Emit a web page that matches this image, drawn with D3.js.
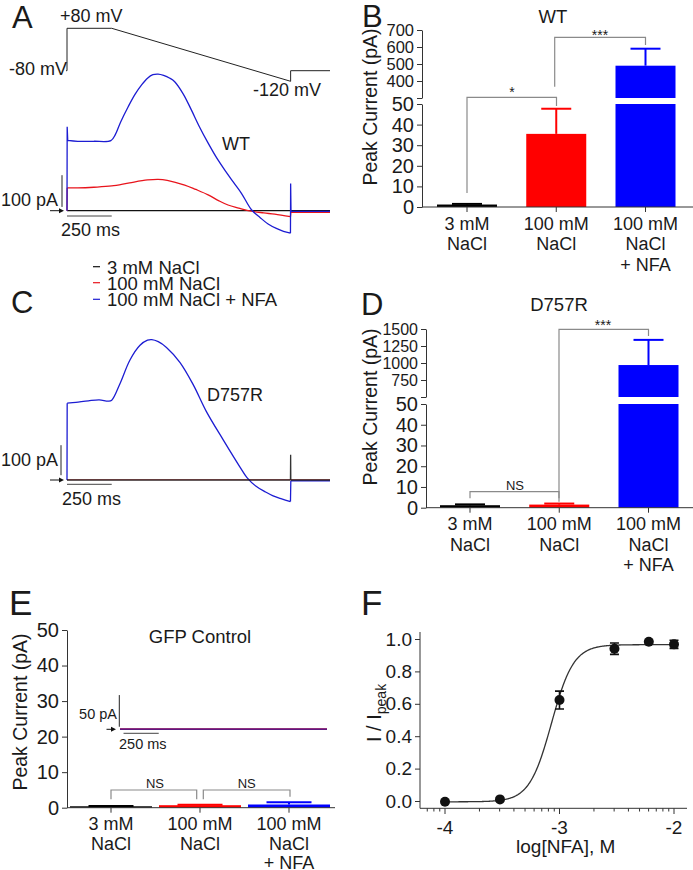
<!DOCTYPE html>
<html><head><meta charset="utf-8">
<script src="https://cdn.jsdelivr.net/npm/d3@7"></script>
<style>
body{margin:0;background:#fff}
svg{display:block}
text{font-family:"Liberation Sans",Arial,Helvetica,sans-serif;fill:#1a1a1a}
</style>
</head><body>
<svg id="fig" width="693" height="870"></svg>
<script>
// ---------------- DATA ----------------
const categories = ["3 mM NaCl", "100 mM NaCl", "100 mM NaCl + NFA"];
const categoryLines = [["3 mM", "NaCl"], ["100 mM", "NaCl"], ["100 mM", "NaCl", "+ NFA"]];
const barColors = ["#000000", "#ff0000", "#0000ff"];
const traceColors = ["#111111", "#e8141c", "#1c1cd2"];

const wtMeans = [1.2, 35.5, 490];
const wtErrors = [0.3, 12.2, 100];
const d757rMeans = [1.2, 1.5, 970];
const d757rErrors = [0.4, 0.5, 370];
const gfpMeans = [0.4, 0.7, 0.9];
const gfpErrors = [0.1, 0.1, 0.6];

const lowerTicks = [0, 10, 20, 30, 40, 50];
const wtUpperTicks = [300, 400, 500, 600, 700];
const d757rUpperTicks = [500, 750, 1000, 1250, 1500];
const gfpTicks = [0, 10, 20, 30, 40, 50];

// voltage protocol (ms, mV)
const protocolTime = [-5, 0, 0, 250, 1250, 1250, 1470];
const protocolVoltage = [-80, -80, 80, 80, -120, -80, -80];

// WT traces (ms, pA)
const wtNfaTime = [0, 1, 4, 60, 150, 245, 270, 300, 342, 380, 416, 450, 480, 509, 540, 575, 602, 650, 695, 740, 789, 835, 882, 930, 975, 1031, 1080, 1124, 1170, 1210, 1249, 1250, 1252, 1470];
const wtNfaCurrent = [0, 265, 222, 219, 219, 221, 240, 280, 328, 367, 396, 418, 429, 431, 427, 418, 407, 368, 318, 265, 213, 168, 128, 90, 55, 3, -22, -42, -56, -65, -71, 86, -2, -2];
const wtNaclTime = [0, 1, 60, 150, 250, 350, 450, 509, 560, 658, 720, 789, 850, 900, 960, 1012, 1100, 1161, 1249, 1251, 1470];
const wtNaclCurrent = [0, 72, 72, 74, 78, 88, 97, 99, 96, 81, 67, 50, 31, 18, 8, 0, -7, -11, -19, -5, -5];
const wtLowTime = [0, 1470];
const wtLowCurrent = [0, 0];

// D757R traces (ms, pA)
const mutNfaTime = [0, 1, 50, 120, 180, 231, 250, 296, 352, 408, 450, 474, 510, 556, 631, 706, 780, 874, 966, 1006, 1059, 1110, 1152, 1200, 1249, 1251, 1470];
const mutNfaCurrent = [0, 256, 259, 264, 267, 263, 266, 321, 400, 449, 466, 468, 461, 442, 392, 317, 227, 133, 44, 8, -22, -40, -53, -63, -72, -3, -3];
const mutNaclTime = [0, 1470];
const mutNaclCurrent = [1, 1];
const mutLowTime = [0, 1249, 1250, 1251, 1470];
const mutLowCurrent = [0, 0, 84, 0, 0];

// GFP control inset traces (ms, pA)
const gfpTraceTime = [0, 1470];
const gfpLowCurrent = [0, 0];
const gfpNaclCurrent = [0.5, 0.5];
const gfpNfaCurrent = [0.3, 0.3];

// Dose response (log M, I/Ipeak)
const logNFA = [-4, -3.52, -3, -2.52, -2.22, -2];
const normCurrent = [-0.005, 0.01, 0.623, 0.94, 0.983, 0.967];
const normError = [0, 0, 0.055, 0.035, 0, 0.025];
const doseTicksX = [-4, -3, -2];
const doseTicksY = [0, 0.2, 0.4, 0.6, 0.8, 1.0];
const fitBottom = -0.005, fitTop = 0.965, fitLogEC50 = -3.07, fitHill = 4.5;

// ---------------- DRAWING ----------------
const svg = d3.select("#fig");
const AX = "#333";
const BR = "#8a8a8a";

function txt(x, y, s, size, anchor, g) {
  return (g || svg).append("text").attr("x", x).attr("y", y).attr("font-size", size)
    .attr("text-anchor", anchor || "start").text(s);
}
function zip(t, v) { return t.map((d, i) => [d, v[i]]); }
function arrow(x1, x2, y) {
  svg.append("line").attr("x1", x1).attr("x2", x2 - 3).attr("y1", y).attr("y2", y).attr("stroke", "#111").attr("stroke-width", 1);
  svg.append("path").attr("d", `M${x2},${y} L${x2 - 5},${y - 2.5} L${x2 - 5},${y + 2.5} Z`).attr("fill", "#111");
}

// panel letters
txt(12, 27.5, "A", 31);
txt(362, 26.5, "B", 31);
txt(11, 313, "C", 31);
txt(361, 315, "D", 31);
txt(9, 615, "E", 35);
txt(361, 615, "F", 35);

// ---------- Panel A : protocol + WT traces ----------
const xA = d3.scaleLinear().domain([0, 1470]).range([67, 330]);
const vA = d3.scaleLinear().domain([-80, 80]).range([70.7, 28.3]);
const yA = d3.scaleLinear().domain([0, 100]).range([210.7, 179]);

svg.append("path").datum(zip(protocolTime, protocolVoltage))
  .attr("d", d3.line().x(d => xA(d[0])).y(d => vA(d[1])))
  .attr("fill", "none").attr("stroke", "#222").attr("stroke-width", 1);
txt(60, 22, "+80 mV", 18);
txt(67, 75, "-80 mV", 18, "end");
txt(253, 96, "-120 mV", 18);

// trace path: smooth between samples, straight for instantaneous jumps
function tracePath(pts, x, y) {
  const segs = [];
  let cur = [pts[0]];
  for (let i = 1; i < pts.length; i++) {
    if (pts[i][0] - pts[i - 1][0] <= 3) {
      if (cur.length > 1) segs.push({ p: cur, smooth: true });
      segs.push({ p: [pts[i - 1], pts[i]], smooth: false });
      cur = [pts[i]];
    } else cur.push(pts[i]);
  }
  if (cur.length > 1) segs.push({ p: cur, smooth: true });
  return segs.map(s => d3.line()
    .curve(s.smooth ? d3.curveCatmullRom.alpha(0.5) : d3.curveLinear)
    .x(d => x(d[0])).y(d => y(d[1]))(s.p)).join("");
}

function drawTraces(sets, x, y, widths) {
  sets.forEach((s, i) => {
    svg.append("path").datum(zip(s[0], s[1]))
      .attr("d", d => tracePath(d, x, y)).attr("fill", "none")
      .attr("stroke", s[2]).attr("stroke-width", widths ? widths[i] : 1.3)
      .attr("stroke-linejoin", "round")
      .attr("stroke-opacity", s[3] || 1);
  });
}
drawTraces([
  [wtLowTime, wtLowCurrent, traceColors[0]],
  [wtNaclTime, wtNaclCurrent, traceColors[1]],
  [wtNfaTime, wtNfaCurrent, traceColors[2]]
], xA, yA);

function scaleBars(x, y, vbX, v0, v1, hbY, t0, t1, label1, label1X, label1Y, label2X, label2Y, fs) {
  svg.append("line").attr("x1", vbX).attr("x2", vbX).attr("y1", y(v0)).attr("y2", y(v1)).attr("stroke", "#222").attr("stroke-width", 1);
  svg.append("line").attr("x1", x(t0)).attr("x2", x(t1)).attr("y1", hbY).attr("y2", hbY).attr("stroke", "#444").attr("stroke-width", 1);
  txt(label1X, label1Y, label1, fs, "end");
  txt(label2X, label2Y, "250 ms", fs);
}
scaleBars(xA, yA, 62, 12, 112, 216, 0, 250, "100 pA", 58, 205.5, 61, 236, 18);
arrow(50, 64, yA(0));
txt(222, 150, "WT", 18);

// ---------- Legend ----------
const legendY = [266.7, 282.7, 299.3];
categories.forEach((c, i) => {
  svg.append("line").attr("x1", 93).attr("x2", 100).attr("y1", legendY[i]).attr("y2", legendY[i])
    .attr("stroke", traceColors[i]).attr("stroke-width", 1.2);
  txt(107, legendY[i] + 7, c, 18.5);
});

// ---------- Panel C : D757R traces ----------
const xC = d3.scaleLinear().domain([0, 1470]).range([67, 330]);
const yC = d3.scaleLinear().domain([0, 100]).range([480, 450]);
drawTraces([
  [mutNaclTime, mutNaclCurrent, traceColors[1], 0.5],
  [mutNfaTime, mutNfaCurrent, traceColors[2]],
  [mutLowTime, mutLowCurrent, traceColors[0], 0.85]
], xC, yC);
scaleBars(xC, yC, 61, 16, 116, 484.3, 0, 250, "100 pA", 58, 466, 62, 505, 18);
arrow(50, 64, yC(0));
txt(207, 401, "D757R", 18);

// ---------- Bar panels ----------
function barPanel(o) {
  const g = svg.append("g");
  const x = d3.scalePoint().domain(categories).range(o.centers);
  const yL = d3.scaleLinear().domain(o.lowerDomain).range(o.lowerRange);
  const yU = o.upperDomain ? d3.scaleLinear().domain(o.upperDomain).range(o.upperRange) : null;
  const yv = v => (yU && v > o.lowerDomain[1]) ? yU(v) : yL(v);
  const rows = categories.map((c, i) => ({ c, m: o.means[i], e: o.errors[i], col: barColors[i] }));

  g.selectAll("rect.low").data(rows).join("rect").attr("class", "low")
    .attr("x", d => x(d.c) - o.barW / 2).attr("width", o.barW)
    .attr("y", d => yL(Math.min(d.m, o.lowerDomain[1])))
    .attr("height", d => yL(0) - yL(Math.min(d.m, o.lowerDomain[1])))
    .attr("fill", d => d.col);
  if (yU) {
    g.selectAll("rect.up").data(rows.filter(d => d.m > o.upperDomain[0])).join("rect").attr("class", "up")
      .attr("x", d => x(d.c) - o.barW / 2).attr("width", o.barW)
      .attr("y", d => yU(d.m)).attr("height", d => yU(o.upperDomain[0]) - yU(d.m))
      .attr("fill", d => d.col);
  }
  g.selectAll("line.err").data(rows).join("line").attr("class", "err")
    .attr("x1", d => x(d.c)).attr("x2", d => x(d.c))
    .attr("y1", d => yv(d.m)).attr("y2", d => yv(d.m + d.e))
    .attr("stroke", d => d.col).attr("stroke-width", 2);
  g.selectAll("line.cap").data(rows).join("line").attr("class", "cap")
    .attr("x1", d => x(d.c) - o.capW / 2).attr("x2", d => x(d.c) + o.capW / 2)
    .attr("y1", d => yv(d.m + d.e)).attr("y2", d => yv(d.m + d.e))
    .attr("stroke", d => d.col).attr("stroke-width", 2);

  const ax = g.append("g").attr("transform", `translate(${o.axisX},0)`)
    .call(d3.axisLeft(yL).tickValues(o.lowerTicks).tickSize(5).tickSizeOuter(0).tickPadding(3));
  ax.selectAll("text").attr("font-size", o.lowerFont);
  if (yU) {
    const au = g.append("g").attr("transform", `translate(${o.axisX},0)`)
      .call(d3.axisLeft(yU).tickValues(o.upperTicks).tickSize(5).tickSizeOuter(0).tickPadding(3)
        .tickFormat(v => v === o.upperDomain[0] ? "" : v));
    au.selectAll("text").attr("font-size", o.upperFont);
  }
  g.selectAll(".domain, .tick line").attr("stroke", AX);
  g.selectAll(".tick text").attr("fill", "#1a1a1a").attr("font-family", '"Liberation Sans",Arial,sans-serif');

  g.append("line").attr("x1", o.axisX).attr("x2", o.xEnd).attr("y1", yL(0)).attr("y2", yL(0)).attr("stroke", AX);
  g.selectAll("line.xt").data(categories).join("line").attr("class", "xt")
    .attr("x1", d => x(d)).attr("x2", d => x(d)).attr("y1", yL(0)).attr("y2", yL(0) + 5).attr("stroke", AX);
  categories.forEach((c, i) => {
    categoryLines[i].forEach((l, k) => txt(x(c), yL(0) + o.firstLine + k * o.lineGap, l, 18, "middle", g));
  });

  o.brackets.forEach(b => {
    g.append("path").attr("d", `M${b.x1},${b.b1} L${b.x1},${b.y} L${b.x2},${b.y} L${b.x2},${b.b2}`)
      .attr("fill", "none").attr("stroke", BR).attr("stroke-width", 1.2);
    txt(b.lx, b.ly, b.label, b.fs, "middle", g);
  });

  txt(o.titleX, o.titleY, o.title, 18.5, "middle", g);
  g.append("text").attr("transform", `translate(${o.ylabX},${o.ylabY}) rotate(-90)`)
    .attr("text-anchor", "middle").attr("font-size", 19.5).text("Peak Current (pA)");
  return x;
}

// B
barPanel({
  centers: [467, 645.5], barW: 60, capW: 30, axisX: 422, xEnd: 693, firstLine: 22.5, lineGap: 20.7,
  lowerDomain: [0, 50], lowerRange: [207, 104], lowerTicks: lowerTicks, lowerFont: 20,
  upperDomain: [300, 700], upperRange: [98, 30], upperTicks: wtUpperTicks, upperFont: 16.5,
  means: wtMeans, errors: wtErrors,
  title: "WT", titleX: 553, titleY: 23, ylabX: 377, ylabY: 107,
  brackets: [
    { x1: 467, x2: 556.5, y: 97.3, b1: 193, b2: 106, label: "*", lx: 512, ly: 97, fs: 14 },
    { x1: 554.7, x2: 645.5, y: 37.3, b1: 86.7, b2: 45, label: "***", lx: 600, ly: 40, fs: 14 }
  ]
});

// D
barPanel({
  centers: [470, 648.5], barW: 60, capW: 30, axisX: 426, xEnd: 693, firstLine: 22.5, lineGap: 20.5,
  lowerDomain: [0, 50], lowerRange: [507.7, 404], lowerTicks: lowerTicks, lowerFont: 20,
  upperDomain: [500, 1500], upperRange: [397, 329], upperTicks: d757rUpperTicks, upperFont: 16,
  means: d757rMeans, errors: d757rErrors,
  title: "D757R", titleX: 559, titleY: 311, ylabX: 377, ylabY: 407,
  brackets: [
    { x1: 470, x2: 559, y: 491.7, b1: 498.3, b2: 498.3, label: "NS", lx: 515, ly: 490, fs: 13 },
    { x1: 559, x2: 648.5, y: 329.3, b1: 501.7, b2: 336, label: "***", lx: 603, ly: 330, fs: 14 }
  ]
});

// E
barPanel({
  centers: [111, 289], barW: 82, capW: 45, axisX: 67, xEnd: 335, firstLine: 22, lineGap: 19.8,
  lowerDomain: [0, 50], lowerRange: [807.7, 630], lowerTicks: gfpTicks, lowerFont: 20,
  means: gfpMeans, errors: gfpErrors,
  title: "GFP Control", titleX: 200, titleY: 643, ylabX: 27, ylabY: 712,
  brackets: [
    { x1: 111, x2: 196.7, y: 790, b1: 799.3, b2: 799.3, label: "NS", lx: 155, ly: 788, fs: 13 },
    { x1: 203.3, x2: 290, y: 790, b1: 799.3, b2: 796.7, label: "NS", lx: 246.7, ly: 788, fs: 13 }
  ]
});

// E inset traces
const xI = d3.scaleLinear().domain([0, 1470]).range([120, 327]);
const yI = d3.scaleLinear().domain([0, 50]).range([729.3, 697.6]);
drawTraces([
  [gfpTraceTime, gfpLowCurrent, traceColors[0]],
  [gfpTraceTime, gfpNaclCurrent, traceColors[1]],
  [gfpTraceTime, gfpNfaCurrent, traceColors[2], 0.55]
], xI, yI, [1.2, 1.6, 1.6]);
scaleBars(xI, yI, 119.3, 4, 54, 733.3, 25, 275, "50 pA", 117, 718.5, 119, 748.5, 14.5);
arrow(106.5, 116, yI(0));

// ---------- Panel F : dose response ----------
const xF = d3.scaleLinear().domain([-4, -2]).range([445, 674]);
const yF = d3.scaleLinear().domain([0, 1]).range([801, 639]);
const gF = svg.append("g");
gF.append("line").attr("x1", 420).attr("x2", 420).attr("y1", 632).attr("y2", 808.3).attr("stroke", AX);
gF.append("line").attr("x1", 420).attr("x2", 687).attr("y1", 808.3).attr("y2", 808.3).attr("stroke", AX);
const ay = gF.append("g").attr("transform", "translate(420,0)")
  .call(d3.axisLeft(yF).tickValues(doseTicksY).tickSize(5).tickPadding(3).tickFormat(d3.format(".1f")));
ay.select(".domain").remove();
ay.selectAll("text").attr("font-size", 19).attr("fill", "#1a1a1a").attr("font-family", '"Liberation Sans",Arial,sans-serif');
ay.selectAll("line").attr("stroke", AX);
const minorTicks = [];
[-5, -4, -3].forEach(dec => d3.range(2, 10).forEach(k => {
  const v = dec + Math.log10(k);
  if (xF(v) > 420 && xF(v) < 687) minorTicks.push(v);
}));
gF.selectAll("line.mn").data(minorTicks).join("line").attr("class", "mn")
  .attr("x1", d => xF(d)).attr("x2", d => xF(d)).attr("y1", 808.3).attr("y2", 811.5).attr("stroke", AX);
gF.selectAll("line.mj").data(doseTicksX).join("line").attr("class", "mj")
  .attr("x1", d => xF(d)).attr("x2", d => xF(d)).attr("y1", 808.3).attr("y2", 814).attr("stroke", AX);
gF.selectAll("text.xl").data(doseTicksX).join("text").attr("class", "xl")
  .attr("x", d => xF(d)).attr("y", 834).attr("text-anchor", "middle").attr("font-size", 19).text(d => d);
const fitX = d3.range(-4, -1.99, 0.005);
gF.append("path").datum(fitX.map(v => [v, fitBottom + (fitTop - fitBottom) / (1 + Math.pow(10, (fitLogEC50 - v) * fitHill))]))
  .attr("d", d3.line().x(d => xF(d[0])).y(d => yF(d[1])))
  .attr("fill", "none").attr("stroke", "#333").attr("stroke-width", 1.3);
const pts = logNFA.map((v, i) => ({ x: v, y: normCurrent[i], e: normError[i] }));
gF.selectAll("path.eb").data(pts.filter(d => d.e > 0)).join("path").attr("class", "eb")
  .attr("d", d => `M${xF(d.x)},${yF(d.y - d.e)} L${xF(d.x)},${yF(d.y + d.e)} M${xF(d.x) - 4.5},${yF(d.y + d.e)} L${xF(d.x) + 4.5},${yF(d.y + d.e)} M${xF(d.x) - 4.5},${yF(d.y - d.e)} L${xF(d.x) + 4.5},${yF(d.y - d.e)}`)
  .attr("stroke", "#111").attr("stroke-width", 1.6).attr("fill", "none");
gF.selectAll("circle").data(pts).join("circle")
  .attr("cx", d => xF(d.x)).attr("cy", d => yF(d.y)).attr("r", 5).attr("fill", "#111");
txt(565.7, 853, "log[NFA], M", 19, "middle", gF);
const yl = gF.append("text").attr("transform", "translate(381,742) rotate(-90)").attr("font-size", 20);
yl.append("tspan").text("I / I");
yl.append("tspan").attr("font-size", 14).attr("dy", 5).text("peak");
</script>
</body></html>
